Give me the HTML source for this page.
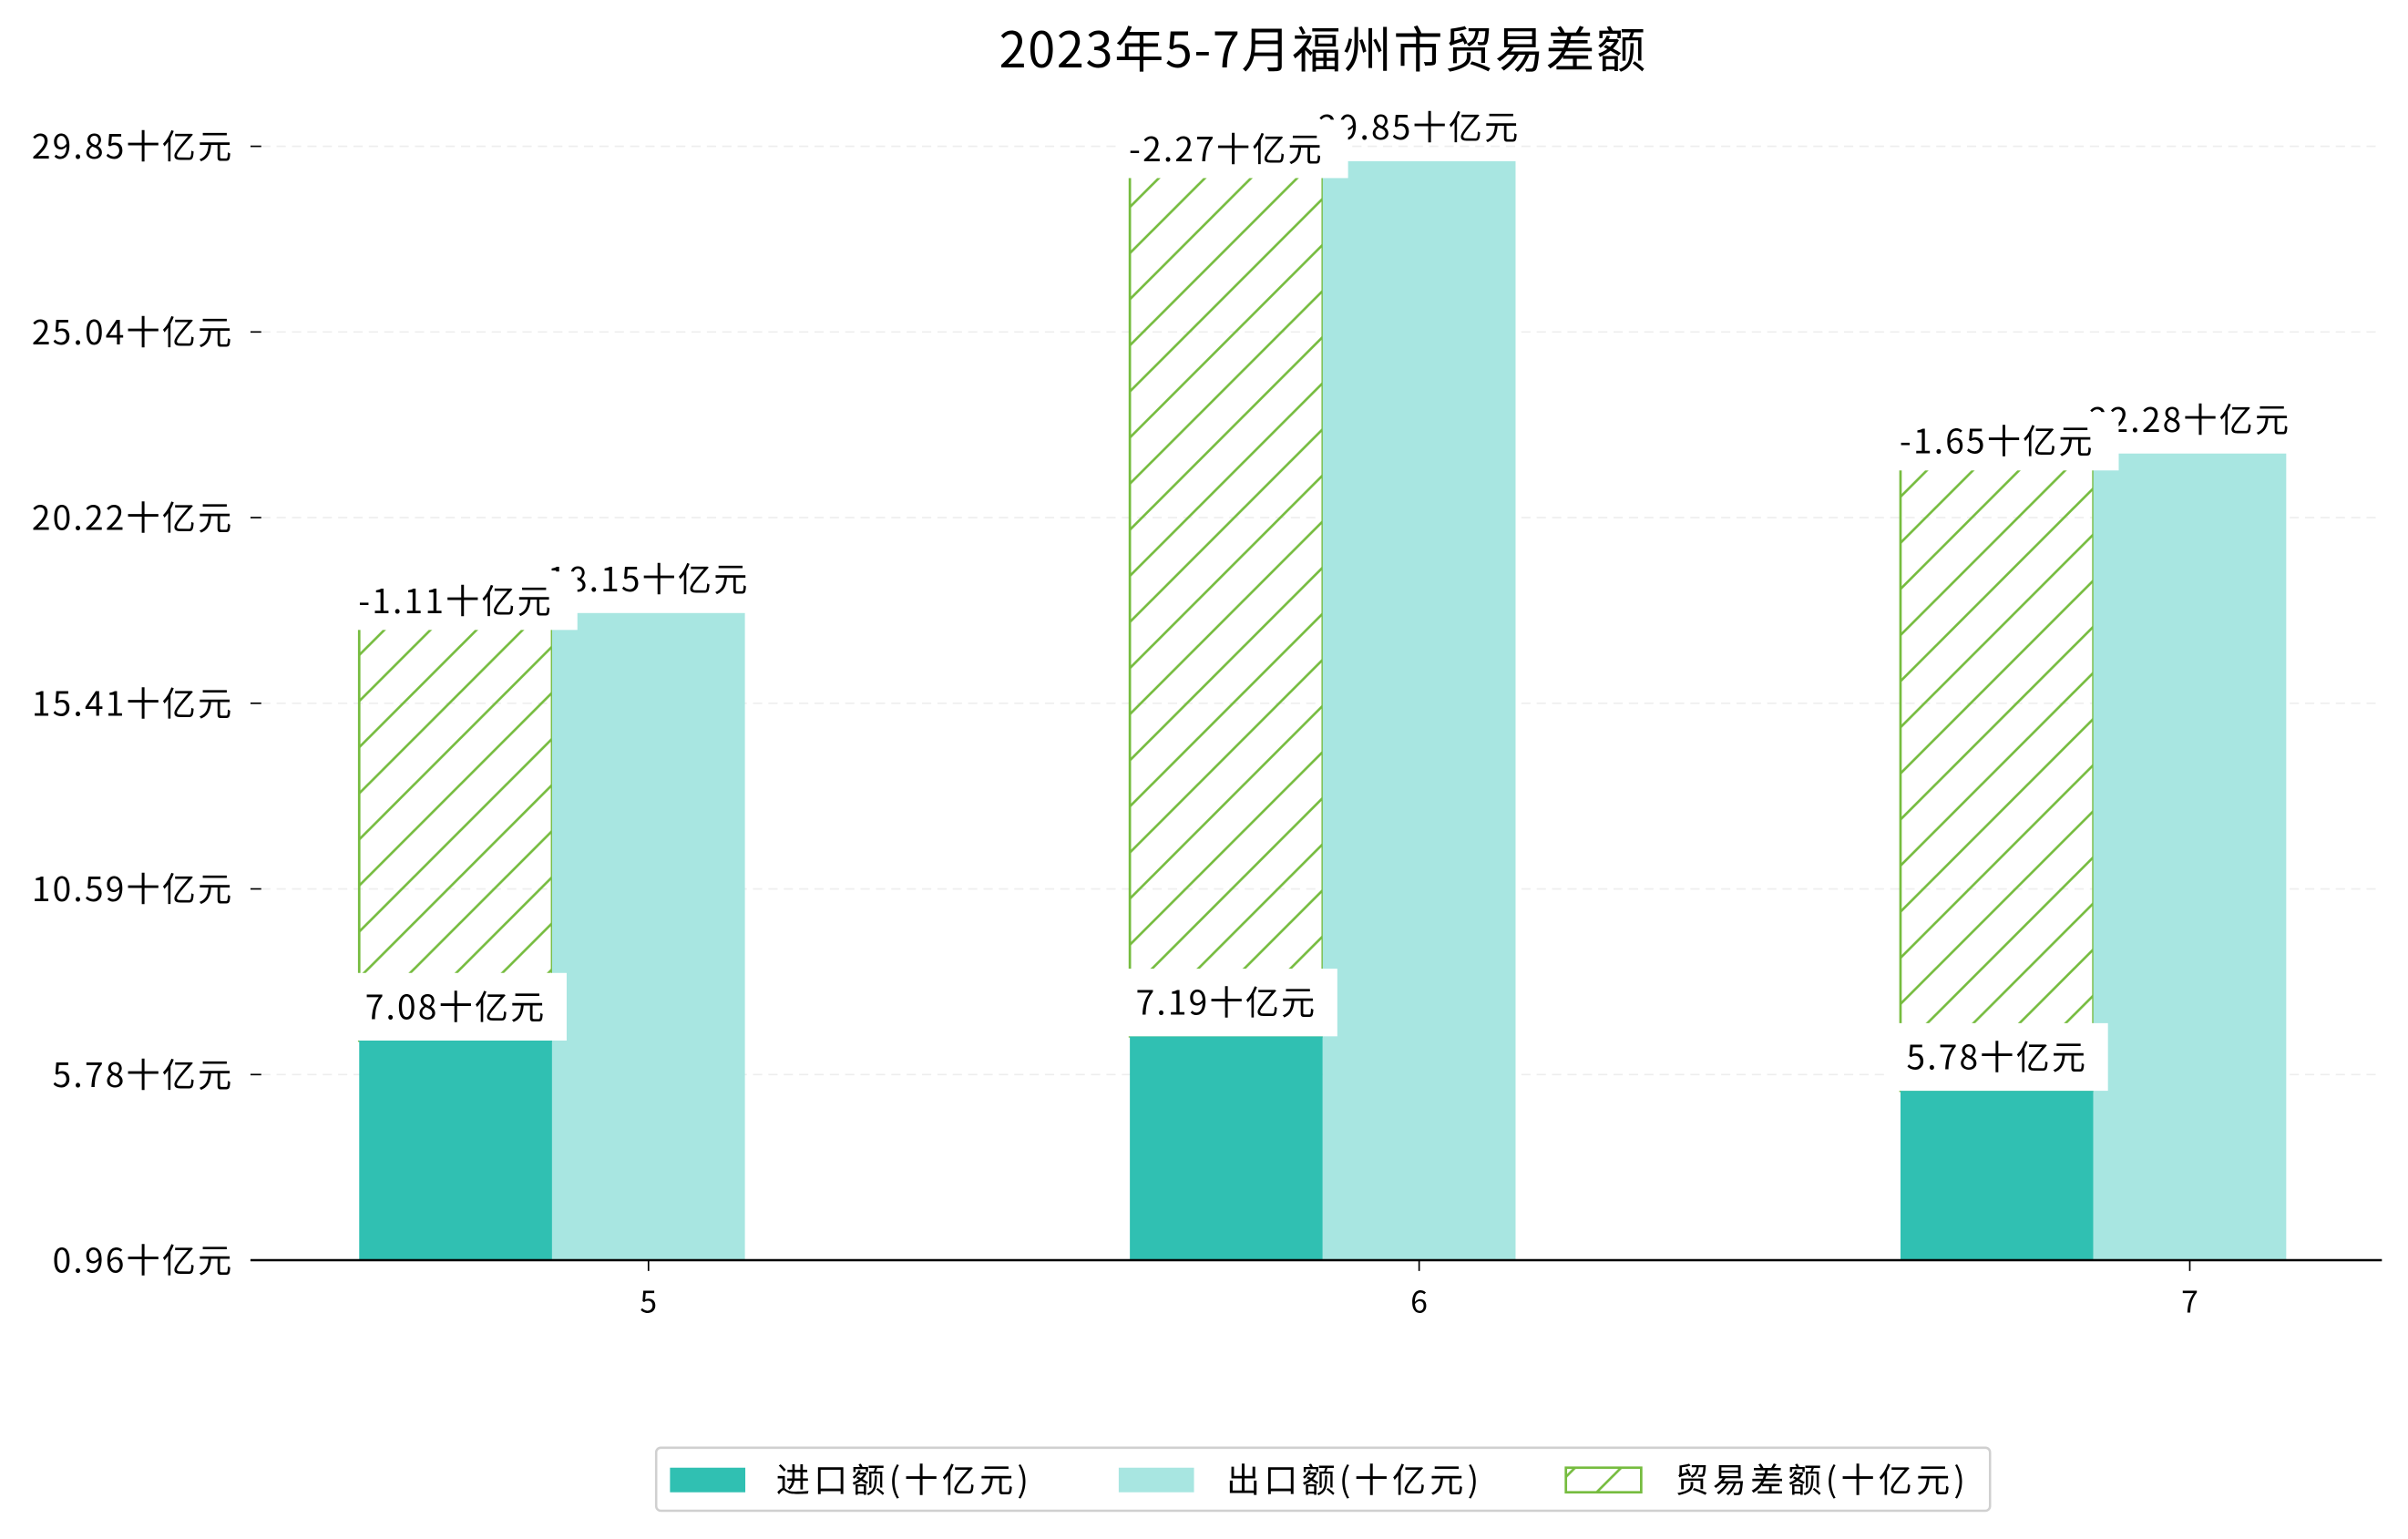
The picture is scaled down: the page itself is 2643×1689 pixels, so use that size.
<!DOCTYPE html>
<html><head><meta charset="utf-8">
<style>
html,body{margin:0;padding:0;background:#fff;}
svg{display:block;}
text{font-family:"WenQuanYi Zen Hei","Noto Sans CJK SC",sans-serif;fill:#000;}
.num{letter-spacing:1.3px;}
</style></head>
<body>
<svg id="chart" width="2643" height="1689" viewBox="0 0 1567 1001.4" preserveAspectRatio="none" xmlns="http://www.w3.org/2000/svg">
<defs>
<pattern id="hatch" patternUnits="userSpaceOnUse" width="30" height="30">
<line x1="-5" y1="35" x2="35" y2="-5" stroke="#76BC3F" stroke-width="1.6"/>
<line x1="-35" y1="35" x2="5" y2="-5" stroke="#76BC3F" stroke-width="1.6"/>
<line x1="25" y1="35" x2="65" y2="-5" stroke="#76BC3F" stroke-width="1.6"/>
</pattern>
</defs>
<text x="861" y="44" text-anchor="middle" font-size="32" style="letter-spacing:1px">2023年5-7月福州市贸易差额</text>
<g id="grid"></g>
<g id="bars"></g>
<g id="labels"></g>
<g id="axes"></g>
<g>
<rect x="427" y="942" width="868" height="41" rx="3" fill="#fff" stroke="#d0d0d0" stroke-width="1.5"/>
<rect x="436" y="955" width="49" height="16" fill="#30C0B2"/>
<text x="505" y="971" font-size="22" style="letter-spacing:2.5px">进口额(十亿元)</text>
<rect x="728" y="955" width="49" height="16" fill="#A8E6E1"/>
<text x="798" y="971" font-size="22" style="letter-spacing:2.5px">出口额(十亿元)</text>
<rect x="1019" y="955" width="49" height="16" fill="url(#hatch)" stroke="#76BC3F" stroke-width="1.6"/>
<text x="1090" y="971" font-size="22" style="letter-spacing:2.5px">贸易差额(十亿元)</text>
</g>
</svg>
<script>
const categories = ["5", "6", "7"];
const importVals = [7.08, 7.19, 5.78];
const exportVals = [18.15, 29.85, 22.28];
const balanceVals = [-1.11, -2.27, -1.65];
const yTickLabels = ["0.96", "5.78", "10.59", "15.41", "20.22", "25.04", "29.85"];

const NS = "http://www.w3.org/2000/svg";
const X0 = 163, X1 = 1550, AXIS_Y = 820, BW = 125.5;
function xPos(i){ return 422 + i * 501.5; }
function yVal(v){ return 855 - v * 25.13; }
function yTick(i){ return AXIS_Y - i * 120.8; }
function mk(tag, attrs, parent, txt){
  const e = document.createElementNS(NS, tag);
  for (const k in attrs) e.setAttribute(k, attrs[k]);
  if (txt !== undefined) e.textContent = txt;
  parent.appendChild(e); return e;
}
const grid = document.getElementById('grid');
const bars = document.getElementById('bars');
const labels = document.getElementById('labels');
const axes = document.getElementById('axes');

yTickLabels.forEach((t, i) => {
  const y = yTick(i);
  if (i > 0) {
    const g = mk('line', {x1: 170, x2: X1, y1: y, y2: y, stroke: '#eeeeee', 'stroke-dasharray': '6,4', 'stroke-width': 1}, grid);
    
    
  }
  const tk = mk('line', {x1: 163, x2: 170, y1: y, y2: y, stroke: '#000', 'stroke-width': 1}, axes);
  
  
  const lb = mk('text', {x: 152, y: y + 8, 'text-anchor': 'end', 'font-size': 22, 'class': 'num'}, axes, t + '十亿元');
  
  
});

categories.forEach((c, i) => {
  const xc = xPos(i);
  const xi = xc - BW * 1.5, xe = xc - BW / 2;
  const hb = mk('rect', {x: xi, y: yVal(exportVals[i]), width: BW, height: yVal(importVals[i]) - yVal(exportVals[i]), fill: 'url(#hatch)', stroke: '#76BC3F', 'stroke-width': 1.6}, bars);
  
  
  const ib = mk('rect', {x: xi, y: yVal(importVals[i]), width: BW, height: AXIS_Y - yVal(importVals[i]), fill: '#30C0B2'}, bars);
  
  
  const eb = mk('rect', {x: xe, y: yVal(exportVals[i]), width: BW, height: AXIS_Y - yVal(exportVals[i]), fill: '#A8E6E1'}, bars);
  
  

  const el = mk('text', {x: xc, y: yVal(exportVals[i]) - 14, 'text-anchor': 'middle', 'font-size': 22, 'class': 'num'}, labels, exportVals[i].toFixed(2) + '十亿元');
  
  
  const by = yVal(exportVals[i]) + 11;
  const bbox = mk('rect', {x: xi - 8, y: by - 38, width: 150, height: 38, fill: '#fff'}, labels);
  
  
  const bl = mk('text', {x: xi + BW / 2, y: by - 11, 'text-anchor': 'middle', 'font-size': 22, 'class': 'num'}, labels, balanceVals[i].toFixed(2) + '十亿元');
  
  
  const iy = yVal(importVals[i]);
  const ibox = mk('rect', {x: xi - 9, y: iy - 44, width: 144, height: 44, fill: '#fff'}, labels);
  
  
  const il = mk('text', {x: xi + BW / 2, y: iy - 14, 'text-anchor': 'middle', 'font-size': 22, 'class': 'num'}, labels, importVals[i].toFixed(2) + '十亿元');
  
  

  const xt = mk('line', {x1: xc, x2: xc, y1: AXIS_Y, y2: AXIS_Y + 7, stroke: '#000', 'stroke-width': 1}, axes);
  
  
  const xl = mk('text', {x: xc, y: AXIS_Y + 34, 'text-anchor': 'middle', 'font-size': 20}, axes, c);
  
  
});
const ax = mk('line', {x1: X0, x2: X1, y1: AXIS_Y, y2: AXIS_Y, stroke: '#000', 'stroke-width': 1.5}, axes);


</script>
</body></html>
